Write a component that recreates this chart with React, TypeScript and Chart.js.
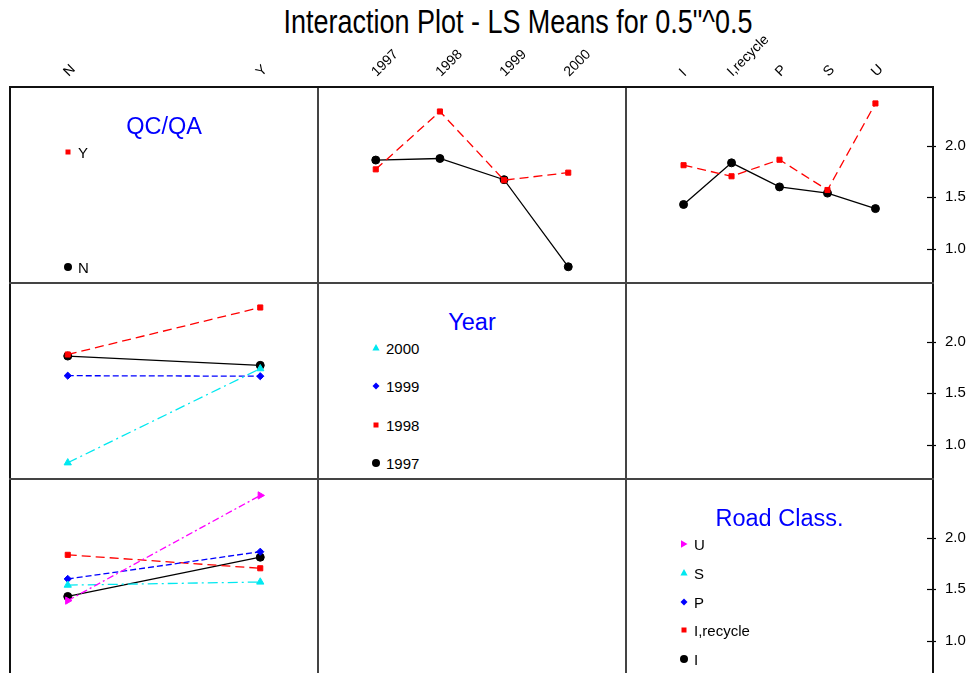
import React, { useEffect, useRef } from 'react';
import { Chart, registerables } from 'chart.js';

Chart.register(...registerables);

// ---------- data ----------
const chartTitle = 'Interaction Plot - LS Means for 0.5"^0.5';
const qcLevels = ['N', 'Y'];
const yearLevels = ['1997', '1998', '1999', '2000'];
const roadLevels = ['I', 'I,recycle', 'P', 'S', 'U'];
const yTicks = [1.0, 1.5, 2.0];
const yMin = 0.67;
const yMax = 2.567;

// LS means, QC/QA by Year (one value per year)
const qcN_byYear = [1.86, 1.875, 1.67, 0.827];
const qcY_byYear = [1.77, 2.33, 1.665, 1.738];
// LS means, QC/QA by Road Class (one value per road class)
const qcN_byRoad = [1.43, 1.833, 1.6, 1.54, 1.39];
const qcY_byRoad = [1.81, 1.703, 1.863, 1.57, 2.408];

// ---------- styles ----------
const FONT = "'Liberation Sans', Arial, sans-serif";
type Sty = { color: string; dash: number[]; point: string; radius: number; rotation: number };
const STY: Sty[] = [
  { color: '#000000', dash: [], point: 'circle', radius: 4, rotation: 0 },
  { color: '#ff0000', dash: [9, 5], point: 'rect', radius: 3.6, rotation: 0 },
  { color: '#0000ff', dash: [6, 3], point: 'rectRot', radius: 3.6, rotation: 0 },
  { color: '#00e8f0', dash: [10, 4, 2, 4], point: 'triangle', radius: 4.2, rotation: 0 },
  { color: '#ff00ff', dash: [7, 3, 2, 3], point: 'triangle', radius: 4.2, rotation: 90 },
];

const COLS = [10, 318, 626, 933];
const ROWS = [87, 283, 479, 675];
const RIGHT_AXIS_W = 35;

type Series = { name: string; values: number[]; sty: Sty };

const qcByYearSeries: Series[] = [
  { name: 'N', values: qcN_byYear, sty: STY[0] },
  { name: 'Y', values: qcY_byYear, sty: STY[1] },
];
const qcByRoadSeries: Series[] = [
  { name: 'N', values: qcN_byRoad, sty: STY[0] },
  { name: 'Y', values: qcY_byRoad, sty: STY[1] },
];
const yearByQcSeries: Series[] = yearLevels.map((y, i) => ({
  name: y,
  values: [qcN_byYear[i], qcY_byYear[i]],
  sty: STY[i],
}));
const roadByQcSeries: Series[] = roadLevels.map((r, i) => ({
  name: r,
  values: [qcN_byRoad[i], qcY_byRoad[i]],
  sty: STY[i],
}));

type PanelProps = {
  col: number;
  row: number;
  xLevels: string[];
  series: Series[];
  topAxis: boolean;
  rightAxis: boolean;
};

function Panel({ col, row, xLevels, series, topAxis, rightAxis }: PanelProps) {
  const ref = useRef<HTMLCanvasElement>(null);
  const pw = COLS[col + 1] - COLS[col];
  const ph = ROWS[row + 1] - ROWS[row];
  const top = topAxis ? 0 : ROWS[row];
  const topH = topAxis ? ROWS[row] : 0;
  const width = pw + (rightAxis ? RIGHT_AXIS_W : 0);
  const height = ph + topH;

  useEffect(() => {
    const n = xLevels.length;
    const axisDecor = {
      id: 'axisDecor',
      afterDraw(chart: any) {
        const ctx = chart.ctx;
        const area = chart.chartArea;
        if (topAxis) {
          const sx = chart.scales.x;
          ctx.save();
          ctx.font = `14px ${FONT}`;
          ctx.fillStyle = '#000';
          ctx.textAlign = 'left';
          ctx.textBaseline = 'alphabetic';
          xLevels.forEach((lab, i) => {
            const px = sx.getPixelForValue(i);
            ctx.save();
            ctx.translate(px + 1, area.top - 10);
            ctx.rotate(-Math.PI / 4);
            ctx.fillText(lab, 0, 0);
            ctx.restore();
          });
          ctx.restore();
        }
        if (rightAxis) {
          const sy = chart.scales.y;
          ctx.save();
          ctx.strokeStyle = '#000';
          ctx.lineWidth = 1.2;
          yTicks.forEach((v) => {
            const py = Math.round(sy.getPixelForValue(v)) + 0.5;
            ctx.beginPath();
            ctx.moveTo(area.right - 6, py);
            ctx.lineTo(area.right + 3, py);
            ctx.stroke();
          });
          ctx.restore();
        }
      },
    };
    const chart = new Chart(ref.current as HTMLCanvasElement, {
      type: 'line',
      data: {
        datasets: series.map((s, i) => ({
          label: s.name,
          data: s.values.map((v, j) => ({ x: j, y: v })),
          borderColor: s.sty.color,
          backgroundColor: s.sty.color,
          borderDash: s.sty.dash,
          borderWidth: 1.3,
          pointStyle: s.sty.point as any,
          pointRadius: s.sty.radius,
          pointRotation: s.sty.rotation,
          pointBorderWidth: 1,
          pointBackgroundColor: s.sty.color,
          pointBorderColor: s.sty.color,
          tension: 0,
          fill: false,
          order: -i,
        })),
      },
      options: {
        animation: false,
        responsive: false,
        maintainAspectRatio: false,
        events: [],
        layout: { padding: 0, autoPadding: false },
        plugins: { legend: { display: false }, tooltip: { enabled: false }, title: { display: false } },
        scales: {
          x: {
            type: 'linear',
            position: 'top',
            min: -0.3 * (n - 1),
            max: 1.3 * (n - 1),
            display: topAxis,
            grid: { display: false, drawTicks: false },
            border: { display: false },
            ticks: { display: false },
            afterBuildTicks: (s: any) => {
              s.ticks = xLevels.map((_, i) => ({ value: i }));
            },
            afterFit: (s: any) => {
              if (topAxis) s.height = topH;
              s.paddingLeft = 0;
              s.paddingRight = 0;
            },
          },
          y: {
            type: 'linear',
            position: 'right',
            min: yMin,
            max: yMax,
            display: rightAxis,
            grid: { display: false, drawTicks: false },
            border: { display: false },
            ticks: {
              padding: 12,
              color: '#000',
              font: { family: FONT, size: 15 },
              callback: (v: any) => Number(v).toFixed(1),
            },
            afterBuildTicks: (s: any) => {
              s.ticks = yTicks.map((v) => ({ value: v }));
            },
            afterFit: (s: any) => {
              if (rightAxis) s.width = RIGHT_AXIS_W;
              s.paddingTop = 0;
              s.paddingBottom = 0;
            },
          },
        },
      } as any,
      plugins: [axisDecor],
    });
    return () => chart.destroy();
  }, []);

  return (
    <canvas
      ref={ref}
      width={width}
      height={height}
      style={{ position: 'absolute', left: COLS[col], top, width, height }}
    />
  );
}

function Marker({ sty }: { sty: Sty }) {
  const c = sty.color;
  let shape: React.ReactNode = null;
  if (sty.point === 'circle') shape = <circle cx={6} cy={6} r={4} fill={c} />;
  else if (sty.point === 'rect') shape = <rect x={3.5} y={3.5} width={5} height={5} fill={c} />;
  else if (sty.point === 'rectRot') shape = <polygon points="6,2.5 9.5,6 6,9.5 2.5,6" fill={c} />;
  else if (sty.rotation === 90) shape = <polygon points="9.5,6 3,2.3 3,9.7" fill={c} />;
  else shape = <polygon points="6,2 9.6,8.5 2.4,8.5" fill={c} />;
  return (
    <svg width={12} height={12} style={{ position: 'absolute', left: -6, top: -6 }}>
      {shape}
    </svg>
  );
}

function LegendPanel({ col, row, title, names, styles }: { col: number; row: number; title: string; names: string[]; styles: Sty[] }) {
  const left = COLS[col];
  const top = ROWS[row];
  const pw = COLS[col + 1] - COLS[col];
  const ph = ROWS[row + 1] - ROWS[row];
  const titleY = 39.5;
  const firstY = 65;
  const lastY = ph - 16;
  const n = names.length;
  const mx = 57.5;
  const items = names.map((nm, i) => ({ nm, sty: styles[i] })).reverse();
  return (
    <div style={{ position: 'absolute', left, top, width: pw, height: ph }}>
      <div
        style={{
          position: 'absolute',
          left: pw / 2,
          top: titleY,
          transform: 'translate(-50%, -50%)',
          color: '#0000ff',
          fontFamily: FONT,
          fontSize: 23.5,
          lineHeight: 1,
          whiteSpace: 'nowrap',
        }}
      >
        {title}
      </div>
      {items.map((it, k) => {
        const y = n > 1 ? firstY + (k * (lastY - firstY)) / (n - 1) : firstY;
        return (
          <div key={it.nm} style={{ position: 'absolute', left: mx, top: y }}>
            <Marker sty={it.sty} />
            <div
              style={{
                position: 'absolute',
                left: 10.5,
                top: 0,
                transform: 'translateY(-50%)',
                fontFamily: FONT,
                fontSize: 15,
                lineHeight: 1,
                color: '#000',
                whiteSpace: 'nowrap',
              }}
            >
              {it.nm}
            </div>
          </div>
        );
      })}
    </div>
  );
}

function Borders() {
  const lines: React.ReactNode[] = [];
  const lw = 2;
  COLS.forEach((x, i) => {
    lines.push(
      <div key={'v' + i} style={{ position: 'absolute', left: x - lw / 2, top: ROWS[0] - lw / 2, width: lw, height: ROWS[3] - ROWS[0] + lw, background: i === 0 || i === 3 ? '#111' : '#444' }} />
    );
  });
  ROWS.slice(0, 3).forEach((y, i) => {
    lines.push(
      <div key={'h' + i} style={{ position: 'absolute', left: COLS[0] - lw / 2, top: y - lw / 2, width: COLS[3] - COLS[0] + lw, height: lw, background: i === 0 ? '#111' : '#444' }} />
    );
  });
  return <>{lines}</>;
}

export default function App() {
  return (
    <div style={{ position: 'absolute', left: 0, top: 0, width: 968, height: 673, overflow: 'hidden', background: '#fff' }}>
      <div
        style={{
          position: 'absolute',
          left: 518,
          top: 5,
          transform: 'translateX(-50%) scaleX(0.817)',
          fontFamily: FONT,
          fontSize: 33,
          lineHeight: 1,
          whiteSpace: 'nowrap',
          color: '#000',
        }}
      >
        {chartTitle}
      </div>
      {/* row 1 */}
      <Panel col={0} row={0} xLevels={qcLevels} series={[]} topAxis={true} rightAxis={false} />
      <Panel col={1} row={0} xLevels={yearLevels} series={qcByYearSeries} topAxis={true} rightAxis={false} />
      <Panel col={2} row={0} xLevels={roadLevels} series={qcByRoadSeries} topAxis={true} rightAxis={true} />
      {/* row 2 */}
      <Panel col={0} row={1} xLevels={qcLevels} series={yearByQcSeries} topAxis={false} rightAxis={false} />
      <Panel col={2} row={1} xLevels={roadLevels} series={[]} topAxis={false} rightAxis={true} />
      {/* row 3 */}
      <Panel col={0} row={2} xLevels={qcLevels} series={roadByQcSeries} topAxis={false} rightAxis={false} />
      <Panel col={2} row={2} xLevels={roadLevels} series={[]} topAxis={false} rightAxis={true} />
      <LegendPanel col={0} row={0} title="QC/QA" names={qcLevels} styles={[STY[0], STY[1]]} />
      <LegendPanel col={1} row={1} title="Year" names={yearLevels} styles={STY.slice(0, 4)} />
      <LegendPanel col={2} row={2} title="Road Class." names={roadLevels} styles={STY} />
      <Borders />
    </div>
  );
}
